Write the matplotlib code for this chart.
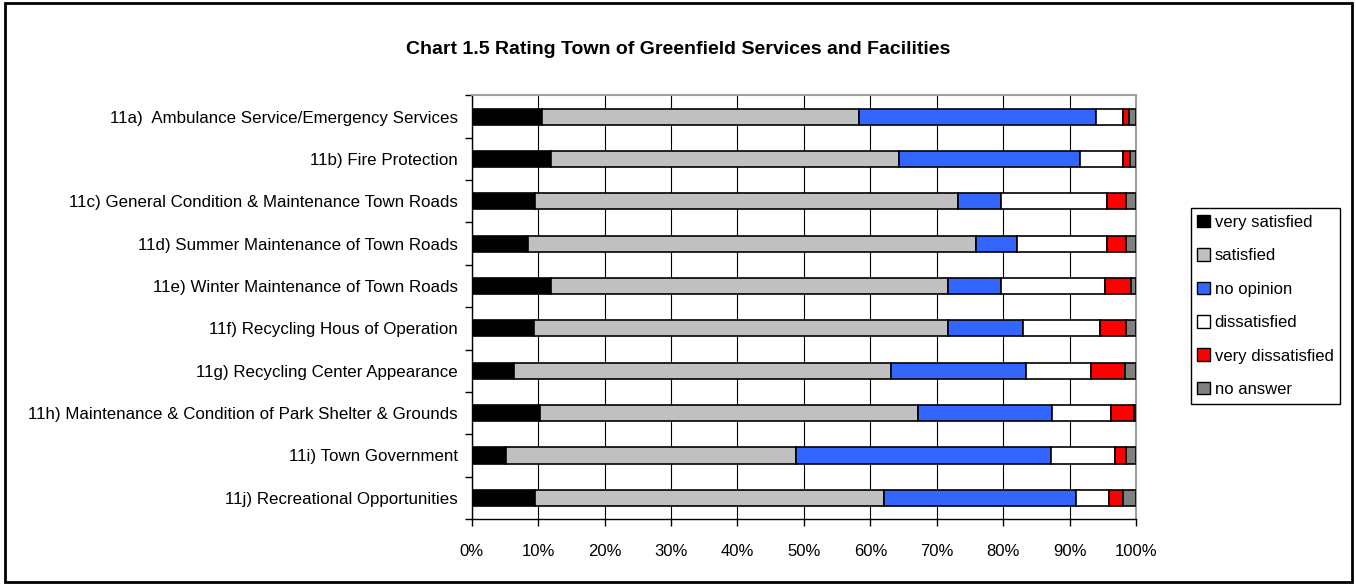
import matplotlib
matplotlib.use("Agg")
import matplotlib.pyplot as plt
from matplotlib.patches import Patch, Rectangle
import numpy as np

plt.rcParams['font.family'] = ['Liberation Sans', 'DejaVu Sans']

# Survey question 11, share of answers per service (percent)
categories = [
    '11a)  Ambulance Service/Emergency Services',
    '11b) Fire Protection',
    '11c) General Condition & Maintenance Town Roads',
    '11d) Summer Maintenance of Town Roads',
    '11e) Winter Maintenance of Town Roads',
    '11f) Recycling Hous of Operation',
    '11g) Recycling Center Appearance',
    '11h) Maintenance & Condition of Park Shelter & Grounds',
    '11i) Town Government',
    '11j) Recreational Opportunities',
]
very_satisfied = [10.5, 11.9, 9.5, 8.5, 11.9, 9.3, 6.4, 10.2, 5.2, 9.5]
satisfied = [47.8, 52.4, 63.7, 67.4, 59.8, 62.4, 56.7, 57.0, 43.6, 52.6]
no_opinion = [35.6, 27.2, 6.5, 6.2, 8.0, 11.3, 20.4, 20.2, 38.4, 28.8]
dissatisfied = [4.1, 6.5, 15.9, 13.5, 15.6, 11.6, 9.7, 8.9, 9.6, 5.0]
very_dissatisfied = [1.0, 1.1, 2.9, 2.9, 3.9, 3.9, 5.1, 3.4, 1.7, 2.2]
no_answer = [1.0, 0.9, 1.5, 1.5, 0.8, 1.5, 1.7, 0.3, 1.5, 1.9]

series_names = ['very satisfied', 'satisfied', 'no opinion', 'dissatisfied',
                'very dissatisfied', 'no answer']
series_colors = ['#000000', '#c0c0c0', '#3366ff', '#ffffff', '#ff0000', '#808080']
series = [very_satisfied, satisfied, no_opinion, dissatisfied, very_dissatisfied, no_answer]

fig = plt.figure(figsize=(13.56, 5.86), dpi=100)
ax = fig.add_axes([0.3479, 0.1143, 0.4899, 0.7229])

y = np.arange(len(categories))
left = np.zeros(len(categories))
for vals, color in zip(series, series_colors):
    vals = np.array(vals)
    ax.barh(y, vals, left=left, height=0.38, color=color, edgecolor='black',
            linewidth=1.2, zorder=3)
    left += vals

ax.set_xlim(0, 100)
ax.set_ylim(len(categories) - 0.5, -0.5)

ax.set_xticks(np.arange(0, 101, 10))
ax.set_xticklabels([f'{v}%' for v in range(0, 101, 10)])
ax.tick_params(axis='x', direction='out', length=5, width=1, pad=13, labelsize=12)

ax.set_yticks(y)
ax.set_yticklabels(categories)
ax.set_yticks(np.arange(-0.5, len(categories), 1), minor=True)
ax.tick_params(axis='y', which='major', length=0, pad=10, labelsize=12.2)
ax.tick_params(axis='y', which='minor', direction='out', length=5, width=1)

ax.grid(axis='x', color='black', linewidth=0.8, zorder=0)
ax.set_axisbelow(True)

for side in ['top', 'right']:
    ax.spines[side].set_color('#a0a0a0')
    ax.spines[side].set_linewidth(1.5)
for side in ['left', 'bottom']:
    ax.spines[side].set_color('black')
    ax.spines[side].set_linewidth(1)

fig.text(0.5, 0.916, 'Chart 1.5 Rating Town of Greenfield Services and Facilities',
         ha='center', va='center', fontsize=14, fontweight='bold')

handles = [Patch(facecolor=c, edgecolor='black', linewidth=1) for c in series_colors]
leg = fig.legend(handles, series_names, loc='center left',
                 bbox_to_anchor=(0.878, 0.478), fontsize=12, frameon=True,
                 fancybox=False, shadow=False, handlelength=0.78, handleheight=0.78,
                 handletextpad=0.26, labelspacing=1.1, borderpad=0.4,
                 borderaxespad=0)
leg.get_frame().set_edgecolor('black')
leg.get_frame().set_linewidth(1)
leg.get_frame().set_alpha(1)

# border round the whole chart
fig.patches.append(Rectangle((0.0037, 0.0068), 0.9934, 0.988, transform=fig.transFigure,
                             fill=False, edgecolor='black', linewidth=2))

fig.savefig('out.png', dpi=100)
